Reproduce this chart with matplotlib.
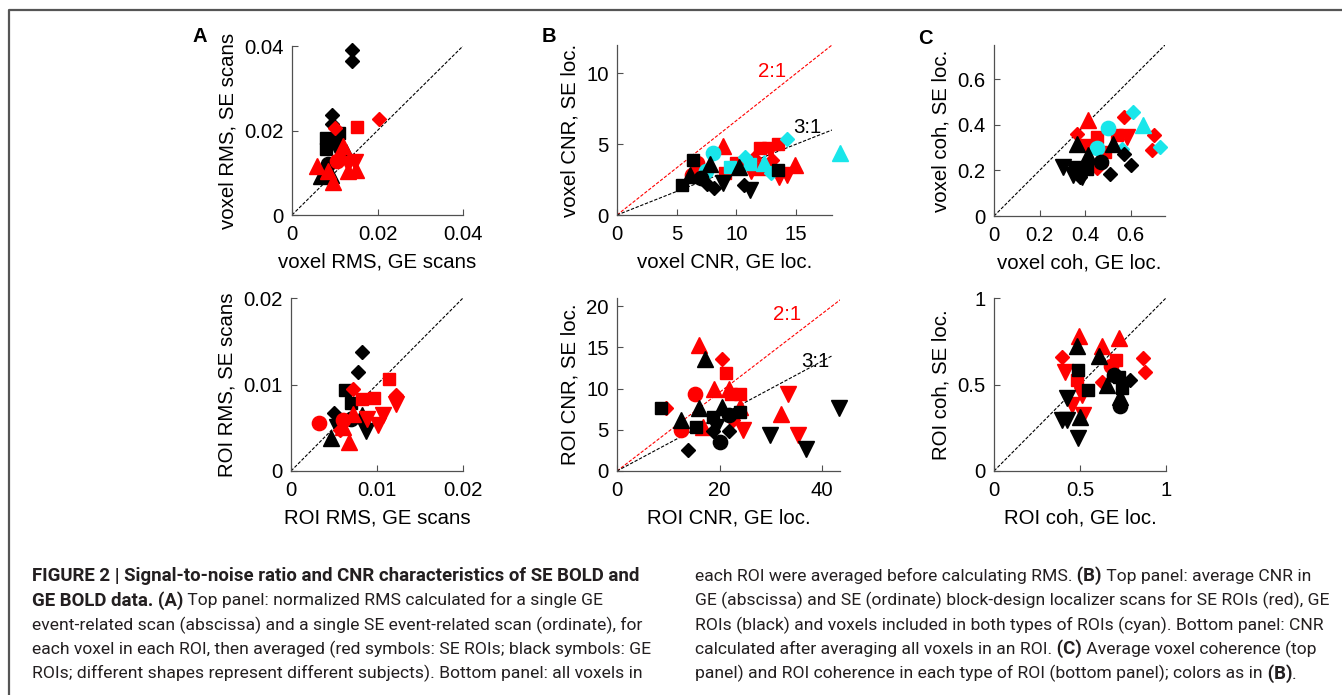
import matplotlib
matplotlib.use('Agg')
import matplotlib.pyplot as plt
from matplotlib.lines import Line2D
from matplotlib import font_manager

# ---- data ----
# subject codes: 0 circle, 1 square, 2 diamond, 3 triangle up, 4 triangle down

# A top: voxel RMS
a1_red_x = [0.0204, 0.0153, 0.0105, 0.0058, 0.0095, 0.0120, 0.0132, 0.0112, 0.0130, 0.0147, 0.0150, 0.0100, 0.0085]
a1_red_y = [0.0227, 0.0208, 0.0128, 0.0115, 0.0077, 0.0163, 0.0103, 0.0145, 0.0120, 0.0126, 0.0107, 0.0205, 0.0105]
a1_red_s = [2, 1, 0, 3, 3, 3, 3, 3, 4, 4, 3, 2, 3]
a1_blk_x = [0.0140, 0.0140, 0.0094, 0.0094, 0.0080, 0.0080, 0.0110, 0.0100, 0.0068, 0.0092, 0.0127, 0.0100, 0.0085]
a1_blk_y = [0.0390, 0.0365, 0.0237, 0.0215, 0.0183, 0.0157, 0.0195, 0.0172, 0.0092, 0.0095, 0.0150, 0.0165, 0.0120]
a1_blk_s = [2, 2, 2, 2, 1, 1, 1, 1, 3, 3, 3, 4, 0]

# A bottom: ROI RMS
a2_red_x = [0.0114, 0.0097, 0.0083, 0.0072, 0.0122, 0.0122, 0.0107, 0.0101, 0.0068, 0.0060, 0.0072, 0.0033, 0.0060, 0.0057, 0.0088]
a2_red_y = [0.0106, 0.0084, 0.0083, 0.0095, 0.0088, 0.0078, 0.0065, 0.0053, 0.0034, 0.0051, 0.0066, 0.0056, 0.0059, 0.0047, 0.0060]
a2_red_s = [1, 1, 1, 2, 2, 4, 4, 4, 3, 3, 3, 0, 0, 2, 4]
a2_blk_x = [0.0082, 0.0078, 0.0063, 0.0070, 0.0050, 0.0046, 0.0087, 0.0053, 0.0082, 0.0070]
a2_blk_y = [0.0137, 0.0115, 0.0094, 0.0079, 0.0067, 0.0038, 0.0046, 0.0051, 0.0065, 0.0060]
a2_blk_s = [2, 2, 1, 1, 2, 3, 4, 4, 3, 0]

# B top: voxel CNR
b1_red_x = [8.85, 12.0, 13.5, 12.8, 13.6, 14.9, 12.0, 13.0, 6.7, 6.3, 10.0, 9.0, 11.2, 14.2, 11.5]
b1_red_y = [4.9, 4.7, 5.0, 4.6, 2.7, 3.5, 3.4, 3.9, 3.7, 2.8, 3.7, 3.0, 3.1, 2.8, 4.0]
b1_red_s = [3, 1, 1, 4, 4, 3, 3, 2, 0, 0, 1, 1, 4, 4, 2]
b1_cyn_x = [18.7, 14.2, 10.7, 12.9, 8.0, 7.45, 12.3, 11.1, 9.5]
b1_cyn_y = [4.37, 5.4, 4.1, 3.0, 4.4, 3.1, 3.7, 3.6, 3.4]
b1_cyn_s = [3, 2, 2, 2, 0, 0, 3, 1, 1]
b1_blk_x = [6.4, 5.4, 7.8, 6.1, 10.25, 8.1, 7.5, 10.6, 11.1, 8.9, 13.5, 7.0]
b1_blk_y = [3.9, 2.1, 3.6, 2.8, 3.4, 1.9, 2.2, 2.1, 1.8, 2.25, 3.2, 2.6]
b1_blk_s = [1, 1, 3, 3, 3, 2, 2, 2, 4, 4, 1, 0]

# B bottom: ROI CNR
b2_red_x = [16.0, 20.5, 21.3, 15.3, 19.0, 21.9, 23.9, 22.3, 33.3, 31.9, 9.6, 24.0, 24.5, 35.3, 12.5, 16.8, 22.6]
b2_red_y = [15.3, 13.6, 11.9, 9.35, 9.9, 9.9, 9.4, 9.3, 9.3, 6.9, 7.6, 7.8, 5.0, 4.4, 5.0, 5.4, 6.2]
b2_red_s = [3, 2, 1, 0, 3, 3, 1, 1, 4, 3, 2, 3, 4, 4, 0, 3, 2]
b2_blk_x = [17.1, 43.4, 8.5, 15.9, 20.5, 21.9, 23.9, 29.9, 36.9, 12.5, 15.5, 18.7, 18.7, 21.9, 13.8, 20.1, 19.4]
b2_blk_y = [13.6, 7.6, 7.6, 7.6, 7.8, 6.8, 7.2, 4.4, 2.7, 6.2, 5.3, 6.6, 4.8, 4.8, 2.5, 3.55, 5.4]
b2_blk_s = [3, 4, 1, 3, 3, 0, 1, 4, 4, 3, 1, 1, 2, 2, 2, 0, 4]

# C top: voxel coherence
c1_red_x = [0.570, 0.702, 0.692, 0.413, 0.362, 0.45, 0.40, 0.538, 0.582, 0.45, 0.465, 0.487]
c1_red_y = [0.434, 0.354, 0.288, 0.42, 0.361, 0.346, 0.31, 0.354, 0.346, 0.21, 0.259, 0.28]
c1_red_s = [2, 2, 2, 3, 2, 1, 1, 1, 4, 2, 3, 1]
c1_cyn_x = [0.611, 0.655, 0.729, 0.501, 0.45, 0.56]
c1_cyn_y = [0.456, 0.398, 0.303, 0.387, 0.30, 0.295]
c1_cyn_s = [2, 3, 2, 0, 0, 2]
c1_blk_x = [0.362, 0.413, 0.523, 0.303, 0.347, 0.384, 0.509, 0.602, 0.570, 0.47, 0.355, 0.406, 0.377]
c1_blk_y = [0.317, 0.266, 0.317, 0.215, 0.178, 0.171, 0.186, 0.222, 0.273, 0.237, 0.215, 0.208, 0.171]
c1_blk_s = [3, 3, 3, 4, 4, 4, 2, 2, 2, 0, 1, 1, 2]

# C bottom: ROI coherence
c2_red_x = [0.496, 0.393, 0.626, 0.724, 0.71, 0.866, 0.88, 0.68, 0.412, 0.48, 0.626, 0.51, 0.451, 0.519]
c2_red_y = [0.778, 0.658, 0.724, 0.768, 0.643, 0.652, 0.57, 0.608, 0.575, 0.525, 0.515, 0.44, 0.382, 0.324]
c2_red_s = [3, 2, 3, 3, 1, 2, 2, 0, 4, 1, 2, 4, 4, 4]
c2_blk_x = [0.48, 0.613, 0.49, 0.549, 0.656, 0.724, 0.792, 0.743, 0.733, 0.733, 0.422, 0.393, 0.422, 0.49, 0.5, 0.695]
c2_blk_y = [0.72, 0.666, 0.585, 0.467, 0.496, 0.546, 0.527, 0.477, 0.373, 0.43, 0.42, 0.295, 0.295, 0.189, 0.315, 0.556]
c2_blk_s = [3, 3, 1, 1, 3, 1, 2, 1, 0, 3, 4, 4, 4, 4, 3, 0]

# caption lines: (text, bold) pieces
caption_left = [
    [("FIGURE 2 | Signal-to-noise ratio and CNR characteristics of SE BOLD and", True)],
    [("GE BOLD data. (A)", True), (" Top panel: normalized RMS calculated for a single GE", False)],
    [("event-related scan (abscissa) and a single SE event-related scan (ordinate), for", False)],
    [("each voxel in each ROI, then averaged (red symbols: SE ROIs; black symbols: GE", False)],
    [("ROIs; different shapes represent different subjects). Bottom panel: all voxels in", False)],
]
caption_right = [
    [("each ROI were averaged before calculating RMS.", False), (" (B)", True), (" Top panel: average CNR in", False)],
    [("GE (abscissa) and SE (ordinate) block-design localizer scans for SE ROIs (red), GE", False)],
    [("ROIs (black) and voxels included in both types of ROIs (cyan). Bottom panel: CNR", False)],
    [("calculated after averaging all voxels in an ROI.", False), (" (C)", True), (" Average voxel coherence (top", False)],
    [("panel) and ROI coherence in each type of ROI (bottom panel); colors as in", False), (" (B)", True), (".", False)],
]

# ---- drawing ----
W, H = 1342, 695
plt.rcParams['font.family'] = ['Liberation Sans', 'DejaVu Sans']
fig = plt.figure(figsize=(W / 100, H / 100), dpi=100)

MARKERS = ['o', 's', 'D', '^', 'v']
MSIZE = {'o': 10.3, 's': 9.3, 'D': 7.4, '^': 11.3, 'v': 11.3}
RED, CYAN, BLACK = '#ff0000', '#19e6ea', '#000000'
AXCOL = '#505050'
FS = 14.7


def px_axes(x0, y0, x1, y1):
    return fig.add_axes([x0 / W, 1 - y1 / H, (x1 - x0) / W, (y1 - y0) / H])


def draw_group(ax, xs, ys, subj, color):
    for x, y, s in zip(xs, ys, subj):
        m = MARKERS[s]
        ax.plot(x, y, ls='none', marker=m, ms=MSIZE[m], color=color, mec=color, mew=1.0,
                clip_on=False)


def style(ax, lim_x, lim_y, ticks_x, ticks_y, labels_x, labels_y, xlabel, ylabel):
    ax.set_xlim(lim_x)
    ax.set_ylim(lim_y)
    ax.set_xticks(ticks_x, labels_x)
    ax.set_yticks(ticks_y, labels_y)
    for side in ['top', 'right']:
        ax.spines[side].set_visible(False)
    for side in ['left', 'bottom']:
        ax.spines[side].set_color(AXCOL)
        ax.spines[side].set_linewidth(0.9)
    ax.tick_params(direction='in', length=4, width=0.8, color=AXCOL, labelsize=FS)
    ax.tick_params(axis='x', pad=7)
    ax.tick_params(axis='y', pad=6)
    ax.set_xlabel(xlabel, fontsize=FS, labelpad=6)
    ax.set_ylabel(ylabel, fontsize=FS, labelpad=5)
    ax.patch.set_alpha(0)


def diag(ax, x1, y1, color):
    ax.plot([0, x1], [0, y1], color=color, lw=0.8, dashes=(3, 1.5), zorder=1)


# A top
ax = px_axes(292, 46, 463, 215)
diag(ax, 0.04, 0.04, BLACK)
draw_group(ax, a1_blk_x, a1_blk_y, a1_blk_s, BLACK)
draw_group(ax, a1_red_x, a1_red_y, a1_red_s, RED)
style(ax, (0, 0.04), (0, 0.04), [0, 0.02, 0.04], [0, 0.02, 0.04], ['0', '0.02', '0.04'],
      ['0', '0.02', '0.04'], 'voxel RMS, GE scans', 'voxel RMS, SE scans')

# A bottom
ax = px_axes(291, 298, 463, 471)
diag(ax, 0.02, 0.02, BLACK)
draw_group(ax, a2_blk_x, a2_blk_y, a2_blk_s, BLACK)
draw_group(ax, a2_red_x, a2_red_y, a2_red_s, RED)
style(ax, (0, 0.02), (0, 0.02), [0, 0.01, 0.02], [0, 0.01, 0.02], ['0', '0.01', '0.02'],
      ['0', '0.01', '0.02'], 'ROI RMS, GE scans', 'ROI RMS, SE scans')

# B top
ax = px_axes(617, 45, 832, 215)
diag(ax, 18, 12, RED)
diag(ax, 18, 6, BLACK)
draw_group(ax, b1_red_x, b1_red_y, b1_red_s, RED)
draw_group(ax, b1_cyn_x, b1_cyn_y, b1_cyn_s, CYAN)
draw_group(ax, b1_blk_x, b1_blk_y, b1_blk_s, BLACK)
ax.text(13.0, 10.1, '2:1', color=RED, fontsize=FS, ha='center', va='center')
ax.text(15.9, 6.2, '3:1', color=BLACK, fontsize=FS, ha='center', va='center')
style(ax, (0, 18), (0, 12), [0, 5, 10, 15], [0, 5, 10], ['0', '5', '10', '15'],
      ['0', '5', '10'], 'voxel CNR, GE loc.', 'voxel CNR, SE loc.')

# B bottom
ax = px_axes(617, 298, 840, 471)
diag(ax, 44, 21, RED)
diag(ax, 42, 14, BLACK)
draw_group(ax, b2_red_x, b2_red_y, b2_red_s, RED)
draw_group(ax, b2_blk_x, b2_blk_y, b2_blk_s, BLACK)
ax.text(33.1, 19.0, '2:1', color=RED, fontsize=FS, ha='center', va='center')
ax.text(38.6, 13.3, '3:1', color=BLACK, fontsize=FS, ha='center', va='center')
style(ax, (0, 43.5), (0, 21), [0, 20, 40], [0, 5, 10, 15, 20], ['0', '20', '40'],
      ['0', '5', '10', '15', '20'], 'ROI CNR, GE loc.', 'ROI CNR, SE loc.')

# C top
ax = px_axes(994, 45, 1165, 216)
diag(ax, 0.75, 0.75, BLACK)
draw_group(ax, c1_red_x, c1_red_y, c1_red_s, RED)
draw_group(ax, c1_cyn_x, c1_cyn_y, c1_cyn_s, CYAN)
draw_group(ax, c1_blk_x, c1_blk_y, c1_blk_s, BLACK)
style(ax, (0, 0.75), (0, 0.75), [0, 0.2, 0.4, 0.6], [0, 0.2, 0.4, 0.6], ['0', '0.2', '0.4', '0.6'],
      ['0', '0.2', '0.4', '0.6'], 'voxel coh, GE loc.', 'voxel coh, SE loc.')

# C bottom
ax = px_axes(994, 298, 1166, 471)
diag(ax, 1, 1, BLACK)
draw_group(ax, c2_red_x, c2_red_y, c2_red_s, RED)
draw_group(ax, c2_blk_x, c2_blk_y, c2_blk_s, BLACK)
style(ax, (0, 1), (0, 1), [0, 0.5, 1], [0, 0.5, 1], ['0', '0.5', '1'],
      ['0', '0.5', '1'], 'ROI coh, GE loc.', 'ROI coh, SE loc.')

# panel letters
for letter, px, py in [('A', 200, 36), ('B', 549, 37), ('C', 925, 38)]:
    fig.text(px / W, 1 - py / H, letter, fontsize=14.5, weight='bold', ha='center', va='center')

# frame
fig.add_artist(Line2D([9 / W, 9 / W, 1], [0, 1 - 10 / H, 1 - 10 / H], transform=fig.transFigure,
                      color='#555555', lw=1.6))

# caption
names = {f.name for f in font_manager.fontManager.ttflist}
cap_font = 'Liberation Sans Narrow' if 'Liberation Sans Narrow' in names else 'Roboto'
renderer = fig.canvas.get_renderer()


def text_width(s, bold):
    t = fig.text(0, 0, s, family=cap_font, fontsize=10, weight='bold' if bold else 'normal')
    w = t.get_window_extent(renderer).width
    t.remove()
    return w


# fit sizes so the longest regular and bold lines span their measured widths
cap_fs = 10 * 618 / text_width(caption_left[3][0][0], False)
cap_fs_bold = 10 * 608 / text_width(caption_left[0][0][0], True)
CAPCOL = '#231f20'


def caption_block(lines, x0, y0, step):
    for i, pieces in enumerate(lines):
        x = x0
        y = y0 + i * step
        for txt, bold in pieces:
            t = fig.text(x / W, 1 - y / H, txt, family=cap_font,
                         fontsize=cap_fs_bold if bold else cap_fs,
                         weight='bold' if bold else 'normal', color=CAPCOL, va='baseline')
            x += t.get_window_extent(renderer).width


caption_block(caption_left, 32, 581, 24.4)
caption_block(caption_right, 695, 581, 24.4)

fig.savefig('out.png', dpi=100)
